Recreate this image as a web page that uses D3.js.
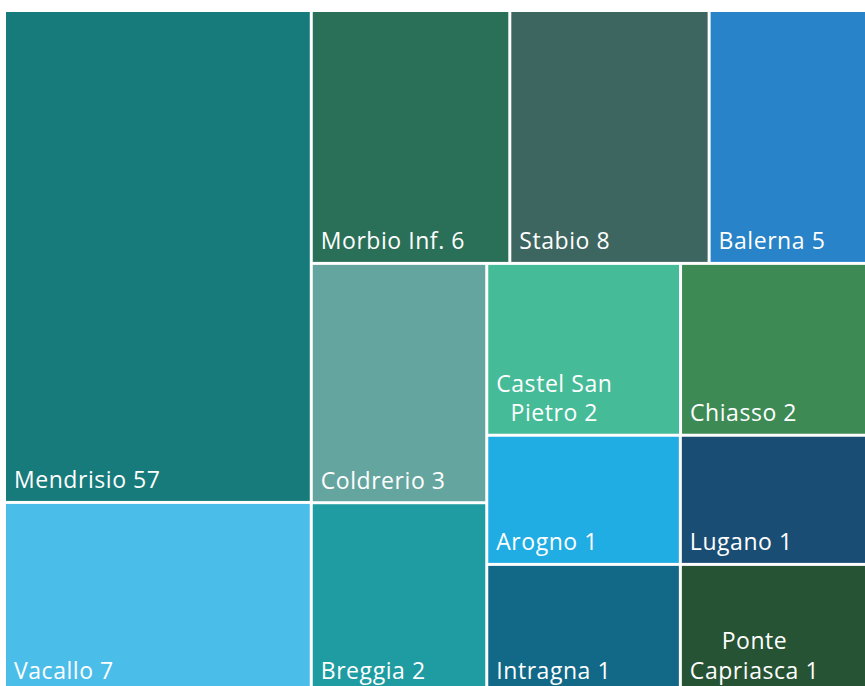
<!DOCTYPE html>
<html>
<head>
<meta charset="utf-8">
<script src="https://cdn.jsdelivr.net/npm/d3@7"></script>
<style>
  html, body { margin: 0; padding: 0; background: #ffffff; overflow: hidden; }
  svg { display: block; }
  text { font-family: "Open Sans", "Noto Sans", sans-serif; fill: #ffffff; letter-spacing: 0.55px; }
</style>
</head>
<body>
<svg id="chart" width="865" height="686"></svg>
<script>
// ---- Data ----
const names = ["Mendrisio", "Vacallo", "Morbio Inf.", "Stabio", "Balerna", "Coldrerio", "Breggia",
  "Castel San Pietro", "Chiasso", "Arogno", "Lugano", "Intragna", "Ponte Capriasca"];
const values = [57, 7, 6, 8, 5, 3, 2, 2, 2, 1, 1, 1, 1];
// relative tile area of each cell as it appears in the picture (thousands of px²)
const tileArea = [150.9, 58.3, 50.2, 50.4, 40.3, 42.0, 33.3, 33.3, 32.3, 25.0, 24.3, 24.8, 24.1];
const colors = ["#177a7b", "#4bbde9", "#2a7058", "#3d6660", "#2883c8", "#65a59f", "#1e9ca1",
  "#45bb98", "#3e8a55", "#1fade4", "#1a4d74", "#116887", "#265333"];
// label line breaks
const labelLines = {
  "Castel San Pietro": ["Castel San", "Pietro"],
  "Ponte Capriasca": ["Ponte", "Capriasca"]
};
// grouping of the tiles (indices into the arrays above)
const groups = [
  [0, 1],
  [[2, 3, 4], [[5, 6], [[7, 8], [9, 10], [11, 12]]]]
];

// ---- Build hierarchy ----
function build(g) {
  if (typeof g === "number") {
    return { name: names[g], value: values[g], area: tileArea[g], color: colors[g] };
  }
  return { children: g.map(build) };
}
const root = d3.hierarchy(build(groups)).sum(d => d.area || 0);

const W = 861, H = 679;
d3.treemap()
  .tile(d3.treemapSliceDice)
  .size([W, H])
  .paddingInner(3)
  .round(false)(root);

const svg = d3.select("#chart");
const g = svg.append("g").attr("transform", "translate(6,12)");

const leaves = root.leaves();
const cell = g.selectAll("g.cell").data(leaves).join("g").attr("class", "cell");

cell.append("rect")
  .attr("x", d => d.x0)
  .attr("y", d => d.y0)
  .attr("width", d => d.x1 - d.x0)
  .attr("height", d => d.y1 - d.y0)
  .attr("fill", d => d.data.color);

const fontSize = 23;
const lineH = 29.5;
cell.each(function(d) {
  const sel = d3.select(this);
  const base = labelLines[d.data.name] ? labelLines[d.data.name].slice() : [d.data.name];
  base[base.length - 1] = base[base.length - 1] + " " + d.data.value;
  const t = sel.append("text").attr("font-size", fontSize);
  const n = base.length;
  const spans = base.map((line, i) => t.append("tspan")
    .attr("y", d.y1 - 12.5 - (n - 1 - i) * lineH)
    .text(line));
  if (n === 1) {
    spans[0].attr("x", d.x0 + 8);
  } else {
    const maxW = d3.max(spans, s => s.node().getComputedTextLength());
    t.attr("text-anchor", "middle");
    spans.forEach(s => s.attr("x", d.x0 + 8 + maxW / 2));
  }
});
</script>
</body>
</html>
